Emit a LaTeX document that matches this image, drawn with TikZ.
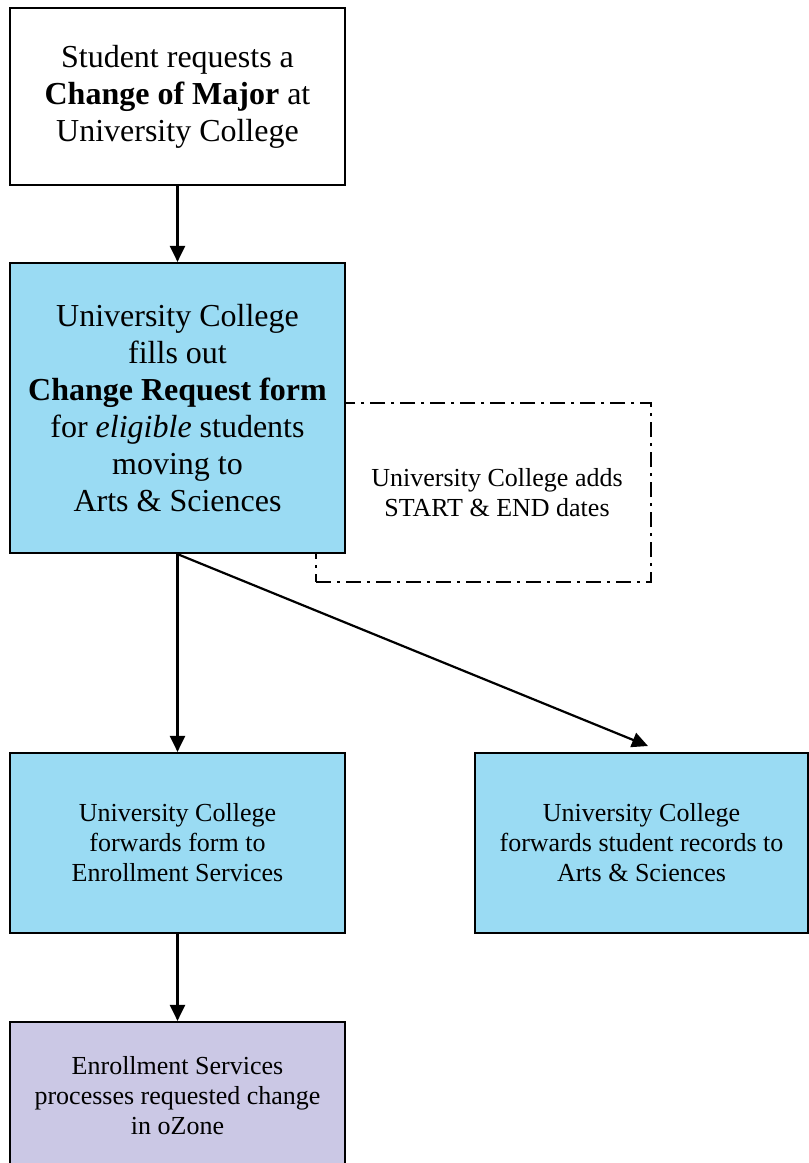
\documentclass[tikz,border=0pt]{standalone}
\usepackage{fontspec}
\setmainfont{Liberation Serif}
\usepackage{tikz}
\usetikzlibrary{arrows.meta}

\definecolor{boxblue}{RGB}{154,219,243}
\definecolor{boxlilac}{RGB}{203,200,229}

\begin{document}
\begin{tikzpicture}[x=1pt,y=-1pt,
  flowbox/.style={draw,line width=2.2pt,align=center,minimum width=335pt,inner sep=0pt},
  bigtext/.style={font=\fontsize{32}{37}\selectfont},
  smalltext/.style={font=\fontsize{26}{30}\selectfont},
  dashdot box/.style={draw,line width=2.2pt,dash pattern=on 15pt off 6pt on 3pt off 6pt,minimum width=335pt,minimum height=179pt},
  flow/.style={line width=2.2pt,-{Triangle[length=16pt,width=15pt]}}]
\useasboundingbox (0,0) rectangle (809,1163);

% the note box sits behind the form box
\node (dates) [dashdot box] at (483.5,492.5) {};
\node (datestext) [smalltext,align=center] at (497,493) {University College adds\\START \& END dates};

\node (request) [flowbox,bigtext,fill=white,minimum height=177pt] at (177.5,96.5)
  {Student requests a\\\textbf{Change of Major} at\\University College};
\node (form) [flowbox,bigtext,fill=boxblue,minimum height=290pt] at (177.5,408)
  {University College\\fills out\\\textbf{Change Request form}\\for \textit{eligible} students\\moving to\\Arts \& Sciences};

\node (toes) [flowbox,smalltext,fill=boxblue,minimum height=180pt] at (177.5,843)
  {University College\\forwards form to\\Enrollment Services};
\node (toas) [flowbox,smalltext,fill=boxblue,minimum width=333pt,minimum height=180pt] at (641.5,843)
  {University College\\forwards student records to\\Arts \& Sciences};
\node (ozone) [flowbox,smalltext,fill=boxlilac,minimum height=148pt] at (177.5,1096)
  {Enrollment Services\\processes requested change\\in oZone};

\coordinate (astip) at (648,746);

\draw [flow] (request.south) -- (form.north);
\draw [flow] (form.south) -- (toes.north);
\draw [flow] (form.south) -- (astip);
\draw [flow] (toes.south) -- (ozone.north);
\end{tikzpicture}
\end{document}
